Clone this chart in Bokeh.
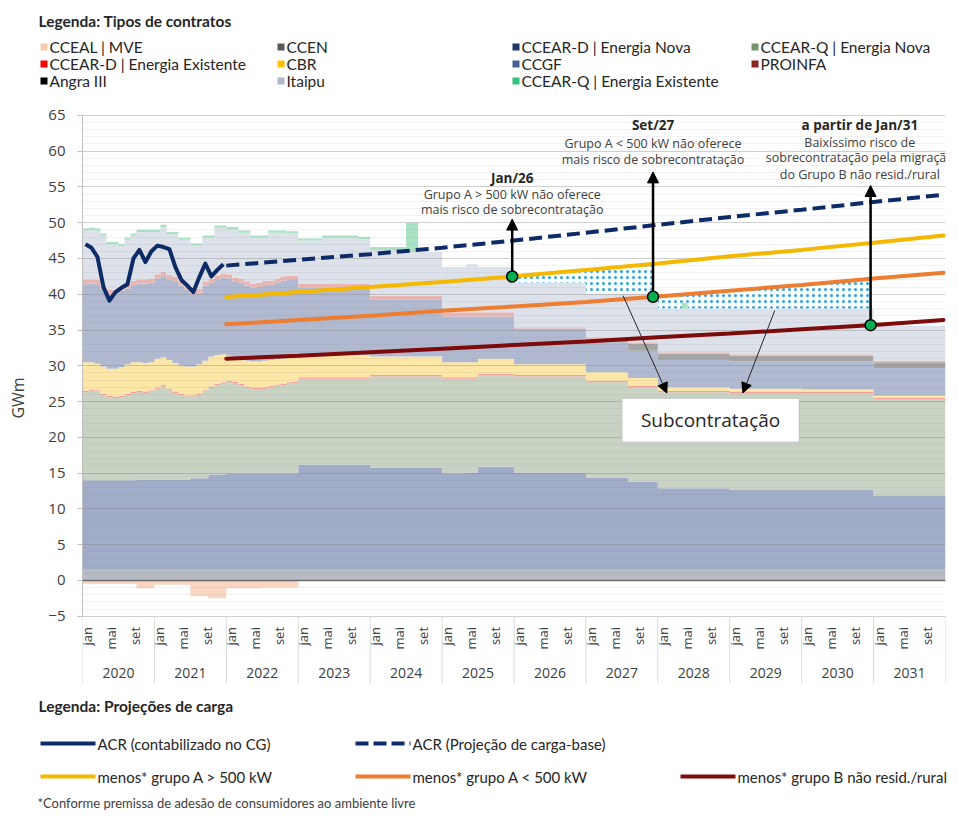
import numpy as np
from bokeh.plotting import figure
from bokeh.layouts import column
from bokeh.models import Range1d, FixedTicker, Arrow, NormalHead, Label, Span
from bokeh.core.properties import value
from bokeh.embed import file_html
from bokeh.resources import INLINE


def steps(blocks):
    out = []
    for v, n in blocks:
        out.extend([v] * n)
    return out


# ---------------- categories ----------------
years = [str(y) for y in range(2020, 2032)]
month_labels = ["jan", "mai", "set"]
month_label_idx = [0, 4, 8]

# ---------------- contracts: monthly stack levels (GWm), jan/2020 .. dez/2031 ----------------
ccen = steps([(1.5, 144)])                                   # thickness
ccear_d_en_top = steps([(14.0, 9), (14.1, 9), (14.3, 3), (14.8, 3), (15.0, 12), (16.2, 12), (15.7, 12),
                        (15.0, 4), (15.1, 2), (15.9, 6), (15.1, 12), (14.4, 7), (13.8, 5), (12.9, 12),
                        (12.7, 24), (11.8, 12)])
ccear_q_en_top = [26.3, 26.5, 26.4, 25.9, 25.6, 25.5, 25.6, 25.9, 26.2, 26.3, 26.2, 26.4,
                  26.8, 27.1, 26.6, 26.2, 25.9, 25.7, 25.7, 25.9, 26.4, 26.9, 27.3, 27.5,
                  27.7, 27.6, 27.3, 26.9, 26.7, 26.7, 26.8, 27.0, 27.2, 27.3, 27.5, 27.6] + \
    steps([(28.2, 12), (28.5, 12), (28.2, 6), (28.7, 6), (28.5, 12), (27.7, 7), (27.0, 5),
           (26.3, 12), (26.2, 24), (25.3, 12)])
ccear_d_ee = steps([(0.2, 144)])                             # thickness
cbr_top = [30.5, 30.5, 30.3, 29.9, 29.6, 29.6, 29.8, 30.2, 30.5, 30.5, 30.4, 30.5,
           31.0, 31.2, 30.8, 30.4, 30.0, 29.9, 29.9, 30.2, 30.7, 31.3, 31.5, 31.6,
           31.4, 31.1, 30.9, 30.7, 30.6, 30.6, 30.7, 30.8, 30.9, 31.0, 31.1, 31.2] + \
    steps([(31.5, 12), (31.3, 12), (30.5, 6), (31.0, 6), (30.2, 12), (29.1, 7), (28.3, 5),
           (27.0, 12), (26.8, 12), (26.7, 12), (25.8, 12)])
ccgf_top = [41.4, 41.5, 41.4, 40.7, 40.0, 40.0, 40.5, 40.8, 41.3, 41.5, 41.5, 41.6,
            42.2, 42.5, 42.1, 41.8, 41.2, 40.7, 40.0, 40.2, 41.2, 41.6, 42.0, 42.3,
            42.2, 41.7, 41.6, 41.2, 40.9, 41.0, 41.3, 41.3, 41.6, 41.9, 42.0, 42.0] + \
    steps([(40.9, 12), (39.2, 12), (36.9, 12), (35.2, 12), (33.3, 7), (32.1, 5),
           (30.8, 12), (30.6, 24), (29.7, 12)])
angra3 = steps([(0.0, 84), (0.4, 7), (1.0, 5), (0.9, 12), (0.8, 36)])      # thickness
proinfa = steps([(0.6, 72), (0.2, 72)])                                       # thickness
itaipu_top = [48.9, 49.0, 48.9, 48.2, 47.0, 47.0, 46.7, 47.6, 48.2, 48.7, 48.7, 48.7,
              48.7, 49.4, 48.4, 48.4, 47.6, 47.6, 46.8, 46.8, 47.9, 47.9, 49.3, 49.3,
              49.1, 49.1, 48.6, 48.6, 47.9, 47.9, 47.9, 48.6, 48.6, 48.6, 48.5, 48.5] + \
    steps([(47.5, 4), (47.9, 6), (47.7, 2), (46.2, 6), (45.9, 6), (43.8, 4), (44.2, 2), (43.8, 6),
           (41.6, 12), (40.1, 12), (38.0, 36), (35.6, 12)])
ccear_q_ee = steps([(0.3, 48), (0.4, 6), (4.1, 2), (0.0, 44), (0.8, 1), (0.0, 43)])   # thickness
cceal_mve = steps([(-0.5, 9), (-1.1, 3), (-0.6, 6), (-2.2, 3), (-2.5, 3), (-1.1, 6), (-1.0, 6), (0.0, 108)])

# ---------------- load projections (GWm) ----------------
acr_real_x = [i + 0.5 for i in range(24)]
acr_real = [47.0, 46.5, 45.2, 41.0, 39.1, 40.3, 40.9, 41.4, 45.0, 46.2, 44.5, 46.0,
            46.8, 46.6, 46.3, 43.8, 42.0, 41.2, 40.3, 42.4, 44.3, 42.5, 43.4, 44.2]
load_x = [24, 36, 48, 60, 72, 84, 96, 108, 120, 132, 143.7]
acr_base = [44.0, 44.8, 45.6, 46.5, 47.5, 48.6, 49.7, 50.8, 51.8, 52.9, 53.9]
menos_a_maior500 = [39.6, 40.3, 41.0, 41.7, 42.5, 43.4, 44.3, 45.3, 46.2, 47.2, 48.2]
menos_a_menor500 = [35.8, 36.4, 37.0, 37.7, 38.3, 38.9, 39.7, 40.5, 41.3, 42.2, 43.0]
menos_b = [31.0, 31.4, 31.9, 32.4, 32.9, 33.4, 34.0, 34.5, 35.1, 35.7, 36.4]

# milestones
milestone_x = [71.7, 95.2, 131.5]
milestone_tip = [50.5, 57.1, 55.2]

# ---------------- styles ----------------
FONT = "Open Sans"
LFONT = "Lato"
NAVY = "#0d2b66"
YEL = "#f5b800"
ORA = "#ed7d31"
MAR = "#7d0b0b"
W = 956

leg_names = ["CCEAL | MVE", "CCEN", "CCEAR-D | Energia Nova", "CCEAR-Q | Energia Nova",
             "CCEAR-D | Energia Existente", "CBR", "CCGF", "PROINFA",
             "Angra III", "Itaipu", "CCEAR-Q | Energia Existente"]
leg_colors = ["#f8cbad", "#595959", "#1f3864", "#76966a",
              "#ff0000", "#ffc000", "#4a5f94", "#8b2323",
              "#000000", "#adb9ca", "#33c481"]

# ---------------- main chart ----------------
p = figure(width=W, height=590, x_range=Range1d(0, 144), y_range=Range1d(-14.4, 65.4),
           output_backend="svg", toolbar_location=None, x_axis_location=None,
           min_border_left=82, min_border_right=W - 945, min_border_top=12, min_border_bottom=7)
p.frame_align = False
p.outline_line_color = None
p.background_fill_color = "white"
p.xgrid.visible = False

yt = FixedTicker(ticks=list(range(-5, 66, 5)), minor_ticks=list(range(-5, 66, 1)))
p.yaxis.ticker = yt
p.ygrid.ticker = yt
p.ygrid.grid_line_color = "#7f7f7f"
p.ygrid.grid_line_alpha = 0.3
p.ygrid.minor_grid_line_color = "#7f7f7f"
p.ygrid.minor_grid_line_alpha = 0.1
p.yaxis.bounds = (-5, 65)
p.yaxis.axis_line_color = "#bfbfbf"
p.yaxis.major_tick_line_color = "#bfbfbf"
p.yaxis.major_tick_out = 5
p.yaxis.major_tick_in = 0
p.yaxis.minor_tick_line_color = None
p.yaxis.major_label_standoff = 12
p.yaxis.major_label_text_font = FONT
p.yaxis.major_label_text_font_size = "15px"
p.yaxis.major_label_text_color = "#404040"
p.yaxis.axis_label = "GWm"
p.yaxis.axis_label_text_font = FONT
p.yaxis.axis_label_text_font_size = "16px"
p.yaxis.axis_label_text_font_style = "normal"
p.yaxis.axis_label_text_color = "#404040"
p.yaxis.axis_label_standoff = 16

# stack
l1 = np.array(ccen, dtype=float)
l2 = np.maximum(l1, ccear_d_en_top)
l3 = np.maximum(l2, ccear_q_en_top)
l4 = l3 + np.array(ccear_d_ee)
l5 = np.maximum(l4, cbr_top)
l6 = np.maximum(l5, ccgf_top)
l7 = l6 + np.array(angra3)
l8 = l7 + np.array(proinfa)
l9 = np.maximum(l8, itaipu_top)
l10 = l9 + np.array(ccear_q_ee)
zero = np.zeros(144)
neg = np.array(cceal_mve, dtype=float)

bands = [
    (zero, l1, "#b7bac2"),   # CCEN
    (l1, l2, "#a0acc8"),     # CCEAR-D Energia Nova
    (l2, l3, "#c9d3c4"),     # CCEAR-Q Energia Nova
    (l3, l4, "#f4a09c"),     # CCEAR-D Energia Existente
    (l4, l5, "#fde7a6"),     # CBR
    (l5, l6, "#b0b9d0"),     # CCGF
    (l6, l7, "#a5a5a5"),     # Angra III
    (l7, l8, "#e7b6b3"),     # PROINFA
    (l8, l9, "#dde1ea"),     # Itaipu
    (l9, l10, "#a8e2c3"),    # CCEAR-Q Energia Existente
    (neg, zero, "#f9d5c2"),  # CCEAL | MVE
]
x_edges = np.arange(145)


def ext(a):
    a = np.asarray(a, dtype=float)
    return np.append(a, a[-1])


for lo, hi, col in bands:
    r = p.varea_step(x=x_edges, y1=ext(lo), y2=ext(hi), step_mode="after", fill_color=col)
    r.level = "image"


# sobrecontratação (dotted regions)
def hatch_region(a, b, line):
    xs = np.linspace(a, b, 1500)
    idx = np.clip(np.floor(xs).astype(int), 0, 143)
    bottom = l10[idx]
    top = np.interp(xs, load_x, line)
    p.varea(x=xs, y1=bottom, y2=np.maximum(top, bottom), fill_color="white",
            hatch_pattern=".", hatch_color="#1ea7e6", hatch_scale=6, hatch_weight=3)


hatch_region(milestone_x[0], milestone_x[1], menos_a_maior500)
hatch_region(milestone_x[1], milestone_x[2], menos_a_menor500)

p.add_layout(Span(location=0, dimension="width", line_color="#6b6b6b", line_width=1.5))

# load lines
p.line(acr_real_x, acr_real, line_color=NAVY, line_width=4, line_join="round")
p.line(load_x, acr_base, line_color=NAVY, line_width=4, line_dash="13 6")
p.line(load_x, menos_a_maior500, line_color=YEL, line_width=4, line_cap="round")
p.line(load_x, menos_a_menor500, line_color=ORA, line_width=4, line_cap="round")
p.line(load_x, menos_b, line_color=MAR, line_width=4, line_cap="round")

# milestone arrows + dots
dot_y = [float(np.interp(milestone_x[0], load_x, menos_a_maior500)),
         float(np.interp(milestone_x[1], load_x, menos_a_menor500)),
         float(np.interp(milestone_x[2], load_x, menos_b))]
for mx, my, tip in zip(milestone_x, dot_y, milestone_tip):
    p.add_layout(Arrow(end=NormalHead(size=11, fill_color="black", line_color="black"),
                       x_start=mx, y_start=my, x_end=mx, y_end=tip,
                       line_color="black", line_width=2.5))
dots = p.scatter(milestone_x, dot_y, size=11, fill_color="#00b050", line_color="black", line_width=1.5)
dots.level = "overlay"

# annotation texts
ann_titles = ["Jan/26", "Set/27", "a partir de Jan/31"]
ann_tx = [71.7, 95.2, 129.7]
ann_ty = [56.3, 63.6, 63.6]
p.text(ann_tx, ann_ty, text=ann_titles, text_font=value(FONT), text_font_style="bold",
       text_font_size="13.5px", text_align="center", text_baseline="middle", text_color="#262626")
ann_lines = ["Grupo A > 500 kW não oferece", "mais risco de sobrecontratação",
             "Grupo A < 500 kW não oferece", "mais risco de sobrecontratação",
             "Baixíssimo risco de", "sobrecontratação pela migração", "do Grupo B não resid./rural"]
ann_lx = [71.7, 71.7, 95.2, 95.2, 129.7, 129.7, 129.7]
ann_ly = [54.0, 51.8, 61.0, 58.8, 61.2, 59.1, 56.8]
p.text(ann_lx, ann_ly, text=ann_lines, text_font=value(FONT), text_font_size="12.5px",
       text_align="center", text_baseline="middle", text_color="#404040")

# subcontratação
for (xs_, ys_, xe_, ye_) in [(90.2, 39.8, 97.5, 26.2), (115.5, 37.7, 110.2, 26.2)]:
    p.add_layout(Arrow(end=NormalHead(size=10, fill_color="black", line_color="black"),
                       x_start=xs_, y_start=ys_, x_end=xe_, y_end=ye_,
                       line_color="#262626", line_width=1))
p.add_layout(Label(x=104.8, y=22.4, text="Subcontratação", text_align="center", text_baseline="middle",
                   text_font=FONT, text_font_size="19px", text_color="#262626",
                   background_fill_color="white", border_line_color="#bfbfbf", border_line_width=1,
                   padding=(19, 9)))

# x axis (drawn inside frame, below -5)
sep_x = [12 * i for i in range(len(years) + 1)]
p.segment(x0=sep_x, y0=[-5] * len(sep_x), x1=sep_x, y1=[-14.4] * len(sep_x),
          line_color="#d9d9d9", line_width=1)
mlx = [12 * yi + mi + 0.5 for yi in range(len(years)) for mi in month_label_idx]
mlt = [m for _ in years for m in month_labels]
p.text(mlx, [-6.5] * len(mlx), text=mlt, angle=np.pi / 2, x_offset=2, text_font=value(FONT),
       text_font_size="13px", text_align="right", text_baseline="middle", text_color="#404040")
p.text([12 * i + 6 for i in range(len(years))], [-12.9] * len(years), text=years, text_font=value(FONT),
       text_font_size="14px", text_align="center", text_baseline="middle", text_color="#404040")

# ---------------- top legend (page pixel coordinates) ----------------
tl = figure(width=W, height=100, x_range=Range1d(0, W), y_range=Range1d(100, 0),
            output_backend="svg", toolbar_location=None, x_axis_location=None, y_axis_location=None,
            min_border=0)
tl.frame_align = False
tl.grid.visible = False
tl.outline_line_color = None
tl.text([38], [20.5], text=["Legenda: Tipos de contratos"], text_font=value(LFONT), text_font_style="bold",
        text_font_size="15.5px", text_baseline="middle", text_color="#262626")
col_x = [40, 277, 512, 751]
row_y = [46.5, 63.5, 80.5]
sx, sy = [], []
for k in range(len(leg_names)):
    sx.append(col_x[k % 4])
    sy.append(row_y[k // 4])
tl.scatter([x + 3.5 for x in sx], sy, marker="square", size=7, fill_color=leg_colors, line_color=None)
tl.text([x + 9 for x in sx], sy, text=leg_names, text_font=value(LFONT), text_font_size="15.5px",
        text_baseline="middle", text_color="#262626")

# ---------------- bottom legend (page pixel coordinates) ----------------
bl = figure(width=W, height=125, x_range=Range1d(0, W), y_range=Range1d(815, 690),
            output_backend="svg", toolbar_location=None, x_axis_location=None, y_axis_location=None,
            min_border=0)
bl.frame_align = False
bl.grid.visible = False
bl.outline_line_color = None
bl.text([38], [705], text=["Legenda: Projeções de carga"], text_font=value(LFONT), text_font_style="bold",
        text_font_size="15.5px", text_baseline="middle", text_color="#262626")
load_names = ["ACR (contabilizado no CG)", "ACR (Projeção de carga-base)",
              "menos* grupo A > 500 kW", "menos* grupo A < 500 kW", "menos* grupo B não resid./rural"]
load_colors = [NAVY, NAVY, YEL, ORA, MAR]
load_dash = ["solid", "13 5", "solid", "solid", "solid"]
lx = [40, 355, 40, 355, 680]
ly = [743, 743, 776, 776, 776]
for nm, c, d, x0, y0 in zip(load_names, load_colors, load_dash, lx, ly):
    bl.line([x0, x0 + 55], [y0, y0], line_color=c, line_width=4, line_dash=d)
    bl.text([x0 + 57], [y0], text=[nm], text_font=value(LFONT), text_font_size="15px",
            text_baseline="middle", text_color="#262626")
bl.text([37], [802], text=["*Conforme premissa de adesão de consumidores ao ambiente livre"],
        text_font=value(LFONT), text_font_size="13px", text_baseline="middle", text_color="#404040")

layout = column(tl, p, bl)
open("out.html", "w").write(file_html(layout, INLINE, "Contratos ACR"))
